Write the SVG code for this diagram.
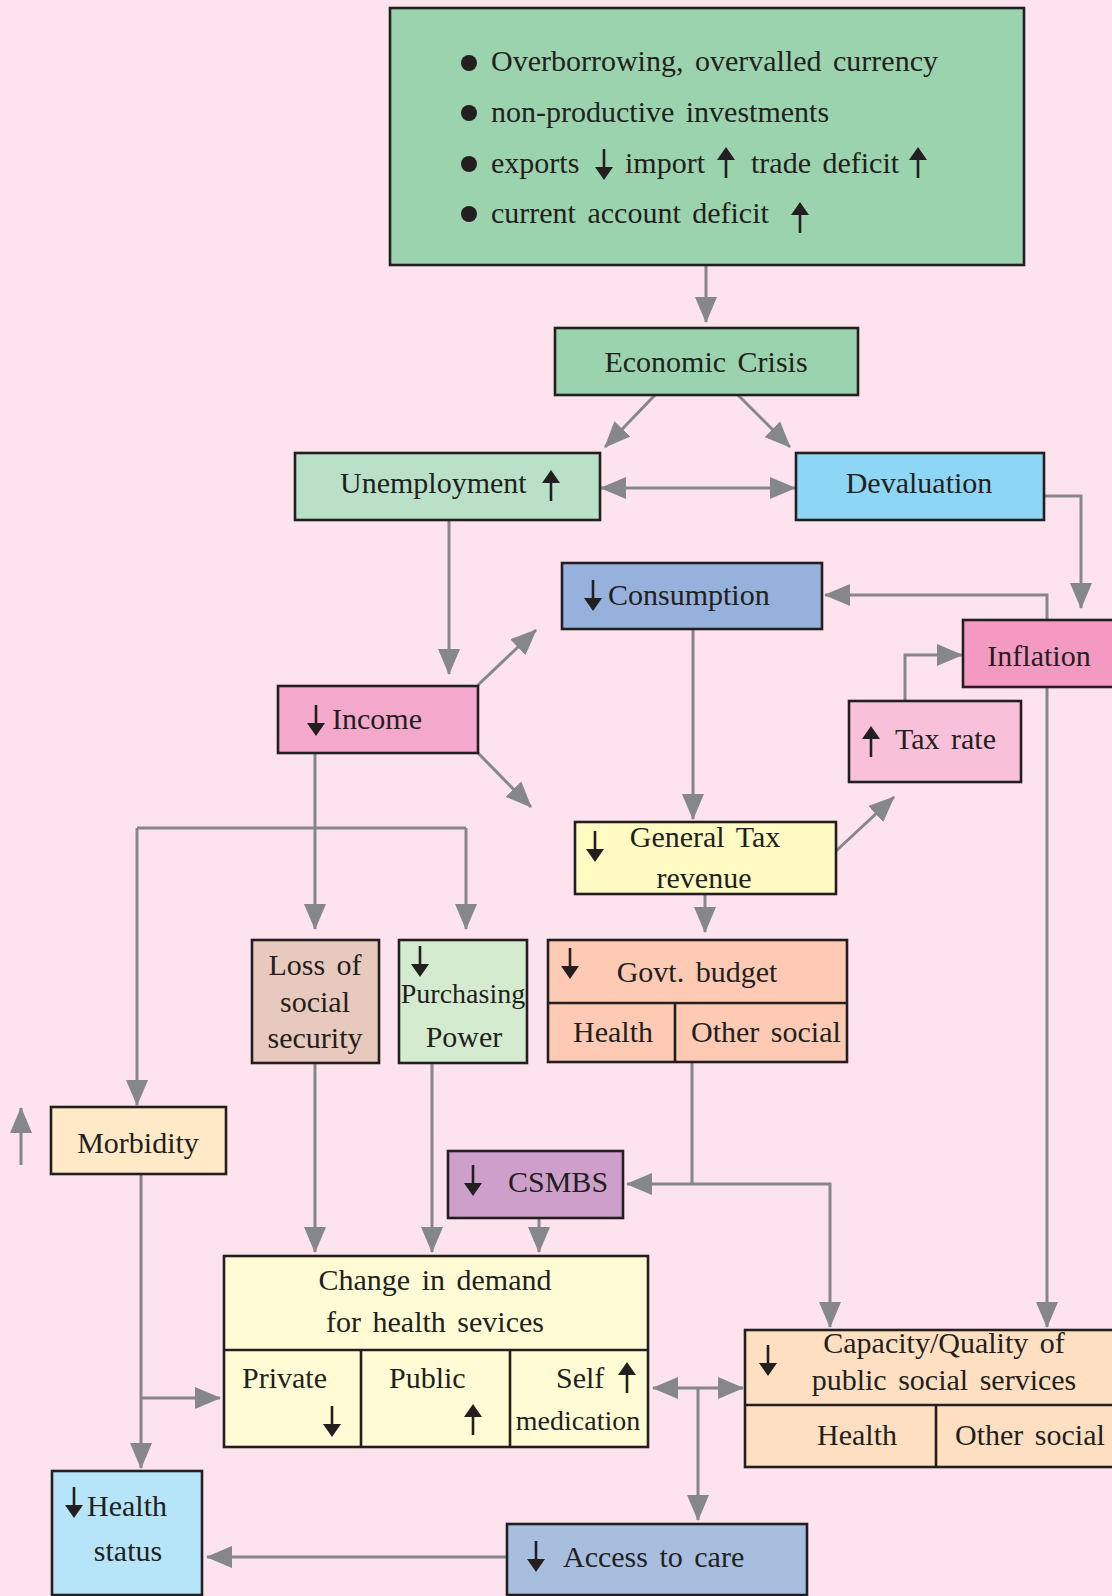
<svg xmlns="http://www.w3.org/2000/svg" xmlns:xlink="http://www.w3.org/1999/xlink" width="1112" height="1596" viewBox="0 0 1112 1596">
<defs>
<style>
.n{stroke:#231F20;stroke-width:2.6}
.t{font-family:"Liberation Serif","DejaVu Serif",serif;font-size:30px;fill:#231F20;word-spacing:4px}
.c{text-anchor:middle}
.cn{fill:none;stroke:#86878A;stroke-width:3}
.e{marker-end:url(#ah)}
.s{marker-start:url(#ah)}
</style>
<marker id="ah" viewBox="0 0 26 22" refX="25" refY="11" markerWidth="26" markerHeight="22" markerUnits="userSpaceOnUse" orient="auto-start-reverse">
<path d="M0 0 L26 11 L0 22 Z" fill="#86878A"/>
</marker>
<g id="ad"><path d="M0 -16 V4" stroke="#231F20" stroke-width="2.6" fill="none"/><path d="M-9 2 H9 L0 15 Z" fill="#231F20"/></g>
<g id="au"><path d="M0 16 V-4" stroke="#231F20" stroke-width="2.6" fill="none"/><path d="M-9 -2 H9 L0 -15 Z" fill="#231F20"/></g>
</defs>
<rect x="0" y="0" width="1112" height="1596" fill="#FCE3EE"/>

<g id="connectors">
<path class="cn e" d="M706 265 V322"/>
<path class="cn e" d="M655 395 L605 447"/>
<path class="cn e" d="M738 395 L790 447"/>
<path class="cn s e" d="M601 488 H795"/>
<path class="cn e" d="M1044 496 H1081 V608"/>
<path class="cn e" d="M1047 621 V595 H825"/>
<path class="cn e" d="M449 520 V674"/>
<path class="cn e" d="M478 685 L536 630"/>
<path class="cn e" d="M478 753 L531 807"/>
<path class="cn e" d="M693 629 V819"/>
<path class="cn e" d="M905 701 V655 H962"/>
<path class="cn e" d="M1047 687 V1327"/>
<path class="cn e" d="M836 851 L894 797"/>
<path class="cn e" d="M705 894 V932"/>
<path class="cn" d="M692 1062 V1184"/>
<path class="cn e" d="M692 1184 H627"/>
<path class="cn e" d="M692 1184 H830 V1327"/>
<path class="cn e" d="M315 753 V929"/>
<path class="cn" d="M137 828 H466"/>
<path class="cn e" d="M137 828 V1105"/>
<path class="cn e" d="M466 828 V929"/>
<path class="cn e" d="M315 1063 V1252"/>
<path class="cn e" d="M432 1063 V1252"/>
<path class="cn e" d="M539 1218 V1252"/>
<path class="cn e" d="M141 1174 V1468"/>
<path class="cn e" d="M141 1398 H220"/>
<path class="cn s e" d="M653 1388 H743"/>
<path class="cn e" d="M698 1388 V1520"/>
<path class="cn e" d="M507 1557 H207"/>
</g>

<g id="causes">
<rect class="n" x="390" y="8" width="634" height="257" fill="#9BD3AE"/>
<circle cx="469" cy="63" r="8" fill="#231F20"/>
<circle cx="469" cy="113" r="8" fill="#231F20"/>
<circle cx="469" cy="164" r="8" fill="#231F20"/>
<circle cx="469" cy="214" r="8" fill="#231F20"/>
<text class="t" x="491" y="71">Overborrowing, overvalled currency</text>
<text class="t" x="491" y="122">non-productive investments</text>
<text class="t" y="173"><tspan x="491">exports</tspan><tspan x="625">import</tspan><tspan x="751">trade deficit</tspan></text>
<text class="t" x="491" y="223">current account deficit</text>
<use href="#ad" x="604" y="165"/>
<use href="#au" x="726" y="162"/>
<use href="#au" x="918" y="162"/>
<use href="#au" x="800" y="217"/>
</g>

<g id="economic-crisis">
<rect class="n" x="555" y="328" width="303" height="67" fill="#9BD3AE"/>
<text class="t c" x="706" y="372">Economic Crisis</text>
</g>

<g id="unemployment">
<rect class="n" x="295" y="453" width="305" height="67" fill="#B8E1C8"/>
<text class="t" x="340" y="493">Unemployment</text>
<use href="#au" x="551" y="485"/>
</g>

<g id="devaluation">
<rect class="n" x="796" y="453" width="248" height="67" fill="#8ED6F6"/>
<text class="t c" x="919" y="493">Devaluation</text>
</g>

<g id="consumption">
<rect class="n" x="562" y="563" width="260" height="66" fill="#96B1DB"/>
<use href="#ad" x="593" y="596"/>
<text class="t" x="608" y="605">Consumption</text>
</g>

<g id="inflation">
<rect class="n" x="963" y="620" width="160" height="67" fill="#F49AC2"/>
<text class="t c" x="1039" y="666">Inflation</text>
</g>

<g id="income">
<rect class="n" x="278" y="686" width="200" height="67" fill="#F4A9CC"/>
<use href="#ad" x="316" y="721"/>
<text class="t" x="332" y="729">Income</text>
</g>

<g id="tax-rate">
<rect class="n" x="849" y="701" width="172" height="81" fill="#F8C1D9"/>
<use href="#au" x="871" y="741"/>
<text class="t" x="895" y="749">Tax rate</text>
</g>

<g id="general-tax-revenue">
<rect class="n" x="575" y="822" width="261" height="72" fill="#FFFBC3"/>
<use href="#ad" x="595" y="847"/>
<text class="t c" x="705" y="847">General Tax</text>
<text class="t c" x="704" y="888">revenue</text>
</g>

<g id="govt-budget">
<rect class="n" x="548" y="940" width="299" height="122" fill="#FFCAB4"/>
<path class="n" d="M548 1003 H847 M675 1003 V1062" fill="none"/>
<use href="#ad" x="570" y="964"/>
<text class="t c" x="697" y="982">Govt. budget</text>
<text class="t c" x="613" y="1042">Health</text>
<text class="t" x="691" y="1042">Other social</text>
</g>

<g id="loss-social-security">
<rect class="n" x="252" y="940" width="127" height="123" fill="#E8C9BD"/>
<text class="t c" x="315" y="975">Loss of</text>
<text class="t c" x="315" y="1012">social</text>
<text class="t c" x="315" y="1048">security</text>
</g>

<g id="purchasing-power">
<rect class="n" x="399" y="940" width="128" height="123" fill="#D5EBD0"/>
<use href="#ad" x="420" y="962"/>
<text class="t c" x="463" y="1003" style="font-size:28px">Purchasing</text>
<text class="t c" x="464" y="1047">Power</text>
</g>

<g id="morbidity">
<rect class="n" x="51" y="1107" width="175" height="67" fill="#FFE9C7"/>
<text class="t c" x="138" y="1153">Morbidity</text>
<path class="cn e" d="M21 1165 V1108"/>
</g>

<g id="csmbs">
<rect class="n" x="448" y="1151" width="175" height="67" fill="#CF9FCB"/>
<use href="#ad" x="473" y="1181"/>
<text class="t" x="508" y="1192">CSMBS</text>
</g>

<g id="change-in-demand">
<rect class="n" x="224" y="1256" width="424" height="191" fill="#FFFCD5"/>
<path class="n" d="M224 1350 H648 M361 1350 V1447 M510 1350 V1447" fill="none"/>
<text class="t c" x="435" y="1290">Change in demand</text>
<text class="t c" x="435" y="1332">for health sevices</text>
<text class="t" x="242" y="1388">Private</text>
<use href="#ad" x="332" y="1422"/>
<text class="t" x="389" y="1388">Public</text>
<use href="#au" x="473" y="1419"/>
<text class="t" x="556" y="1388">Self</text>
<use href="#au" x="627" y="1377"/>
<text class="t c" x="578" y="1430" style="font-size:28px">medication</text>
</g>

<g id="capacity-quality">
<rect class="n" x="745" y="1330" width="380" height="137" fill="#FFDFC1"/>
<path class="n" d="M745 1405 H1125 M936 1405 V1467" fill="none"/>
<use href="#ad" x="768" y="1361"/>
<text class="t c" x="944" y="1353">Capacity/Quality of</text>
<text class="t c" x="944" y="1390">public social services</text>
<text class="t c" x="857" y="1445">Health</text>
<text class="t" x="955" y="1445">Other social</text>
</g>

<g id="health-status">
<rect class="n" x="52" y="1471" width="150" height="124" fill="#B6E5F9"/>
<use href="#ad" x="74" y="1503"/>
<text class="t" x="87" y="1516">Health</text>
<text class="t c" x="128" y="1561">status</text>
</g>

<g id="access-to-care">
<rect class="n" x="507" y="1524" width="300" height="71" fill="#A8BEDF"/>
<use href="#ad" x="536" y="1557"/>
<text class="t" x="563" y="1567">Access to care</text>
</g>
</svg>
